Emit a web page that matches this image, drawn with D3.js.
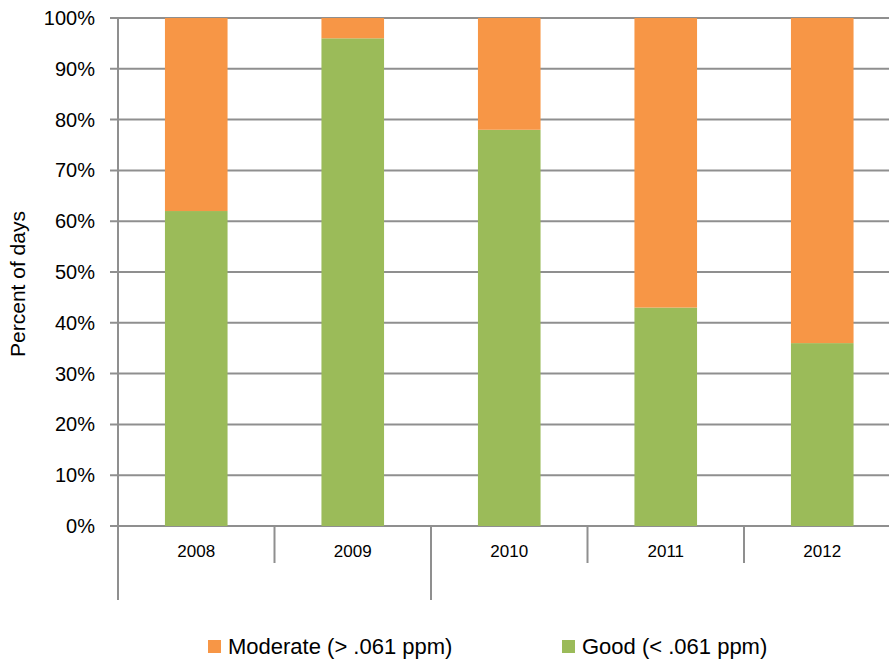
<!DOCTYPE html>
<html>
<head>
<meta charset="utf-8">
<script src="https://cdn.jsdelivr.net/npm/d3@7"></script>
<style>
  html, body { margin: 0; padding: 0; background: #fff; }
  svg { display: block; }
  text { font-family: "Liberation Sans", Arial, sans-serif; fill: #000; }
</style>
</head>
<body>
<svg id="chart" width="889" height="661"></svg>
<script>
// ---- data ----
const years = ["2008", "2009", "2010", "2011", "2012"];
const good = [62, 96, 78, 43, 36];          // Good (< .061 ppm), percent
const moderate = [38, 4, 22, 57, 64];       // Moderate (> .061 ppm), percent
const yTicks = [0, 10, 20, 30, 40, 50, 60, 70, 80, 90, 100];
const outerGroupStarts = ["2008", "2010"];  // second-level category boundaries
const seriesNames = ["Moderate (> .061 ppm)", "Good (< .061 ppm)"];
const seriesKeys = ["moderate", "good"];
const colors = { good: "#9BBB59", moderate: "#F79646" };

// ---- layout ----
const svg = d3.select("#chart");
const plotLeft = 118, plotTop = 18, plotBottom = 526, plotRight = 900.5;

const x = d3.scaleBand().domain(years).range([plotLeft, plotRight]).paddingInner(0).paddingOuter(0);
const y = d3.scaleLinear().domain([0, 100]).range([plotBottom, plotTop]);
const barW = x.bandwidth() * 0.4;

const rows = years.map((yr, i) => ({ year: yr, good: good[i], moderate: moderate[i] }));
const stack = d3.stack().keys(["good", "moderate"]);
const layers = stack(rows);

const gridColor = "#8f8f8f";

// gridlines
svg.append("g").selectAll("line").data(yTicks).join("line")
  .attr("x1", plotLeft - 8).attr("x2", 889)
  .attr("y1", d => y(d)).attr("y2", d => y(d))
  .attr("stroke", gridColor).attr("stroke-width", 2);

// bars
svg.append("g").selectAll("g").data(layers).join("g")
  .attr("fill", d => colors[d.key])
  .selectAll("rect").data(d => d).join("rect")
  .attr("x", d => x(d.data.year) + (x.bandwidth() - barW) / 2)
  .attr("width", barW)
  .attr("y", d => y(d[1]))
  .attr("height", d => y(d[0]) - y(d[1]));

// y axis line
svg.append("line")
  .attr("x1", plotLeft).attr("x2", plotLeft)
  .attr("y1", plotTop).attr("y2", plotBottom)
  .attr("stroke", gridColor).attr("stroke-width", 2);

// y tick labels
svg.append("g").selectAll("text").data(yTicks).join("text")
  .attr("x", 95).attr("y", d => y(d))
  .attr("dy", "0.35em")
  .attr("text-anchor", "end")
  .attr("font-size", 20)
  .text(d => d + "%");

// x axis inner ticks (category boundaries)
svg.append("g").selectAll("line").data(years).join("line")
  .attr("x1", d => x(d)).attr("x2", d => x(d))
  .attr("y1", plotBottom).attr("y2", plotBottom + 37)
  .attr("stroke", gridColor).attr("stroke-width", 2);

// outer group boundaries
svg.append("g").selectAll("line").data(outerGroupStarts).join("line")
  .attr("x1", d => x(d)).attr("x2", d => x(d))
  .attr("y1", plotBottom).attr("y2", 600)
  .attr("stroke", gridColor).attr("stroke-width", 2);

// x labels
svg.append("g").selectAll("text").data(years).join("text")
  .attr("x", d => x(d) + x.bandwidth() / 2)
  .attr("y", 557)
  .attr("text-anchor", "middle")
  .attr("font-size", 17)
  .text(d => d);

// y axis title
svg.append("text")
  .attr("transform", "translate(25,284) rotate(-90)")
  .attr("text-anchor", "middle")
  .attr("font-size", 21)
  .text("Percent of days");

// legend
const legendX = [208, 562];
const lg = svg.append("g").selectAll("g").data(seriesKeys).join("g")
  .attr("transform", (d, i) => `translate(${legendX[i]},640)`);
lg.append("rect").attr("width", 13).attr("height", 13).attr("fill", d => colors[d]);
lg.append("text").attr("x", 20).attr("y", 14)
  .attr("font-size", 22)
  .text((d, i) => seriesNames[i]);
</script>
</body>
</html>
